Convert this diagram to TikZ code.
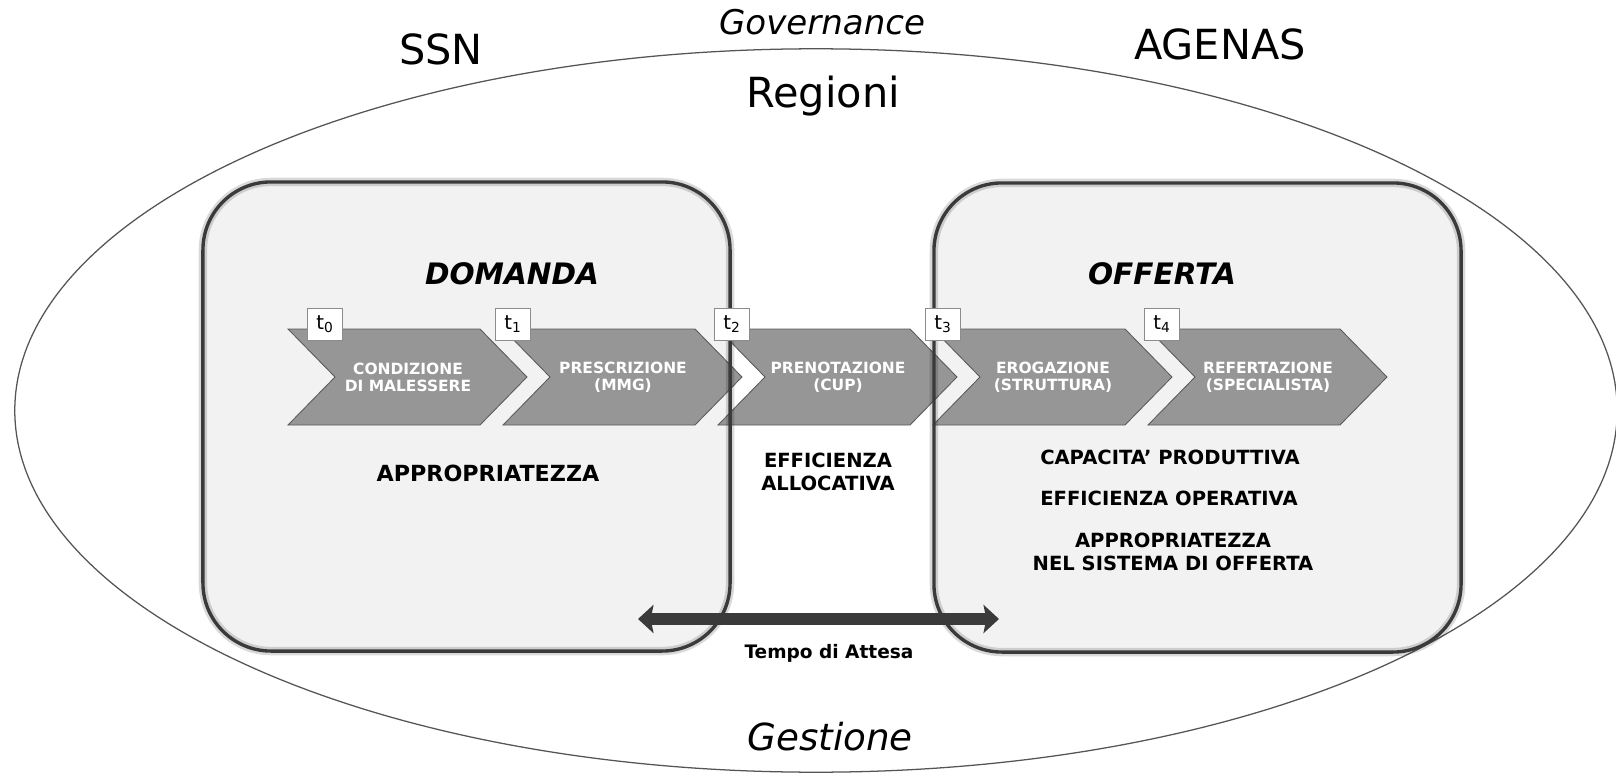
\documentclass[tikz,border=0pt]{standalone}
\usepackage{fontspec}
\setmainfont{DejaVu Sans}
\usepackage{xcolor}
\definecolor{PanelGray}{RGB}{242,242,242}
\definecolor{ChevronGray}{RGB}{150,150,150}
\definecolor{EdgeGray}{RGB}{58,58,58}
\definecolor{RingGray}{RGB}{85,85,85}
\usetikzlibrary{positioning,arrows.meta,calc}

\begin{document}
\begin{tikzpicture}[x=0.025cm, y=-0.025cm,
    panel/.style={rectangle, fill=PanelGray, rounded corners=1.7cm,
                  minimum width=13.175cm, minimum height=11.725cm,
                  inner sep=0, outer sep=0},
    paneledge/.style={draw=EdgeGray, line width=2.4pt, rounded corners=1.7cm},
    panelglow/.style={draw=black, opacity=0.15, line width=6pt, rounded corners=1.7cm},
    ring/.style={draw=RingGray, line width=0.9pt},
    chevron/.style={fill=ChevronGray, draw=black!65, line width=0.6pt},
    chevtext/.style={text=white, align=center, inner sep=0,
                     font=\fontsize{11}{12}\selectfont\bfseries},
    tbox/.style={draw=black!45, fill=white, line width=0.6pt,
                 minimum width=0.875cm, minimum height=0.8cm, inner sep=0,
                 font=\fontsize{14}{14}\selectfont},
    lbl/.style={inner sep=0, anchor=base},
    big/.style={lbl, font=\fontsize{29.5}{32}\selectfont},
    head/.style={lbl, font=\fontsize{21}{24}\selectfont\bfseries\itshape},
    note/.style={inner sep=0, align=center, font=\fontsize{13.9}{16.4}\selectfont\bfseries},
    wait/.style={{Stealth[length=11pt,width=20pt,inset=2pt]}-{Stealth[length=11pt,width=20pt,inset=2pt]},
                 draw=EdgeGray, line width=8.5pt}
]
    \useasboundingbox[fill=white] (0,0) rectangle (1616,774);

    % outer ring and its labels
    \draw[ring] (816,410.5) ellipse [x radius=20.025cm, y radius=9.04cm];
    \node[lbl, font=\fontsize{24.2}{28}\selectfont\itshape] (gov) at (822,35) {Governance};
    \node[big] (ssn) at (441,65) {SSN};
    \node[big] (agenas) at (1220,60) {AGENAS};
    \node[big] (reg) at (823,108) {Regioni};
    \node[lbl, font=\fontsize{26.5}{30}\selectfont\itshape] (gest) at (830,750) {Gestione};

    % the two panels
    \node[panel] (dom) at (466.5,416.5) {};
    \node[panel] (off) at (1197.5,417.5) {};

    % process chevrons
    \foreach \k/\lab in {0/{CONDIZIONE\\DI MALESSERE}, 1/{PRESCRIZIONE\\(MMG)},
                         2/{PRENOTAZIONE\\(CUP)}, 3/{EROGAZIONE\\(STRUTTURA)},
                         4/{REFERTAZIONE\\(SPECIALISTA)}} {
        \pgfmathsetmacro{\xa}{288+215*\k}
        \draw[chevron] (\xa,329) -- ++(192,0) -- ++(47,48) -- ++(-47,48)
                       -- ++(-192,0) -- ++(47,-48) -- cycle;
        \node[chevtext] (c\k) at (\xa+120,377) {\lab};
    }

    \foreach \p in {dom,off} {
        \draw[panelglow] (\p.north west) rectangle (\p.south east);
        \draw[paneledge] (\p.north west) rectangle (\p.south east);
    }

    % time marks
    \foreach \k/\tx in {0/325, 1/513, 2/732, 3/943, 4/1162}
        \node[tbox] (t\k) at (\tx,324) {t\textsubscript{\k}};

    \node[head] (domanda) at (512,285) {DOMANDA};
    \node[head] (offerta) at (1162,285) {OFFERTA};

    \node[lbl, font=\fontsize{15.8}{18}\selectfont\bfseries] (appdom) at (488,481) {APPROPRIATEZZA};
    \node[note] (alloc) at (828,472) {EFFICIENZA\\ALLOCATIVA};
    \node[note, anchor=base] (capac) at (1170,464) {CAPACITA' PRODUTTIVA};
    \node[note, anchor=base] (oper) at (1169,505) {EFFICIENZA OPERATIVA};
    \node[note] (appoff) at (1173,552) {APPROPRIATEZZA\\NEL SISTEMA DI OFFERTA};

    % waiting time
    \coordinate (wl) at (638,619);
    \coordinate (wr) at (999,619);
    \draw[wait] (wl) -- (wr);
    \node[lbl, font=\fontsize{13.2}{15}\selectfont\bfseries] (tempo) at (829,658) {Tempo di Attesa};
\end{tikzpicture}
\end{document}
